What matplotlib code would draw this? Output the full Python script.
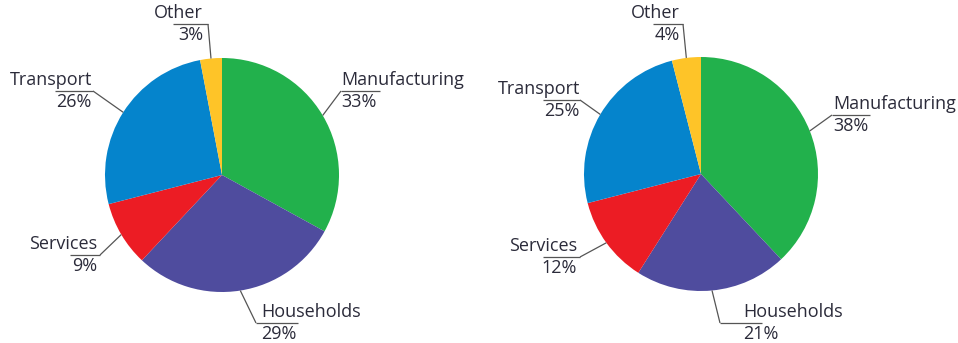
import numpy as np
import matplotlib.pyplot as plt

sectors = ['Manufacturing', 'Households', 'Services', 'Transport', 'Other']
share_left = [33, 29, 9, 26, 3]
share_right = [38, 21, 12, 25, 4]
colors = ['#22b14c', '#4f4c9e', '#ec1c24', '#0584cc', '#fec428']

plt.rcParams['font.family'] = ['Open Sans', 'DejaVu Sans']

W, H = 958, 343
R = 117
fig = plt.figure(figsize=(W / 100, H / 100), dpi=100)
ax = fig.add_axes([0, 0, 1, 1])

# label layout in pixels: (leader x, underline y, underline length, text x)
layout_left = {
    'Manufacturing': (341, 91, 39, 341),
    'Households': (256, 323, 42, 261),
    'Services': (100, 255, -30, 97),
    'Transport': (93, 91, -38, 92),
    'Other': (208, 24, -35, 203),
}
layout_right = {
    'Manufacturing': (832, 115, 38, 833),
    'Households': (720, 323, 42, 743),
    'Services': (580, 257, -37, 577),
    'Transport': (580, 100, -37, 580),
    'Other': (683, 24, -30, 680),
}

pies = [(share_left, (222, 175), layout_left),
        (share_right, (701, 174), layout_right)]

line_kw = dict(color='#555555', lw=0.9, solid_capstyle='butt')
text_kw = dict(color='#2b2b3a', fontsize=13)

for values, center, layout in pies:
    # y axis runs downward, so counterclock in data reads clockwise from the top
    ax.pie(values, colors=colors, startangle=-90, counterclock=True,
           center=center, radius=R, wedgeprops=dict(linewidth=0))
    cum = 0
    for name, v in zip(sectors, values):
        theta = np.radians(-90 + 360 * (cum + v / 2) / 100)
        cum += v
        ex = center[0] + R * np.cos(theta)
        ey = center[1] + R * np.sin(theta)
        ux, uy, ln, tx = layout[name]
        ax.plot([ex, ux], [ey, uy], **line_kw)
        ax.plot([ux, ux + ln], [uy, uy], **line_kw)
        ha = 'left' if ln > 0 else 'right'
        ax.text(tx, uy - 6, name, ha=ha, va='baseline', **text_kw)
        ax.text(tx, uy + 16, f'{v}%', ha=ha, va='baseline', **text_kw)

ax.set_xlim(0, W)
ax.set_ylim(H, 0)
ax.set_aspect('equal')
ax.axis('off')

fig.savefig('out.png', dpi=100)
